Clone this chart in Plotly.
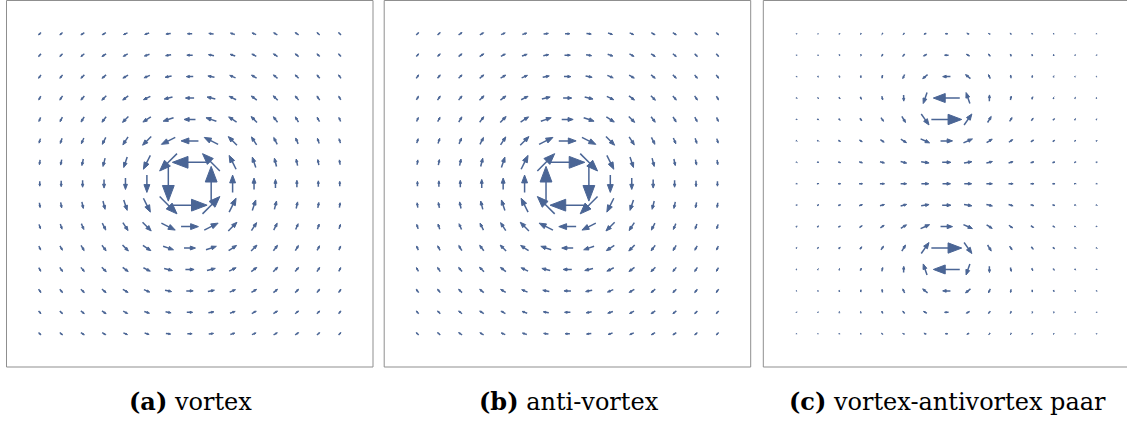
import math
import plotly.graph_objects as go

# ---------------- data ----------------
GRID_X = list(range(-7, 8))           # column positions, left -> right
GRID_Y = list(range(7, -8, -1))       # row positions, top -> bottom

# (a) vortex: horizontal / vertical components per grid point (rows top->bottom)
U_A = [
    [-.07, -.08, -.10, -.11, -.12, -.13, -.14, -.14, -.14, -.13, -.12, -.11, -.10, -.08, -.07],
    [-.07, -.08, -.10, -.12, -.13, -.15, -.16, -.17, -.16, -.15, -.13, -.12, -.10, -.08, -.07],
    [-.07, -.08, -.10, -.12, -.15, -.17, -.19, -.20, -.19, -.17, -.15, -.12, -.10, -.08, -.07],
    [-.06, -.08, -.10, -.13, -.16, -.20, -.24, -.25, -.24, -.20, -.16, -.13, -.10, -.08, -.06],
    [-.05, -.07, -.09, -.12, -.17, -.23, -.30, -.33, -.30, -.23, -.17, -.12, -.09, -.07, -.05],
    [-.04, -.05, -.07, -.10, -.15, -.25, -.40, -.50, -.40, -.25, -.15, -.10, -.07, -.05, -.04],
    [-.02, -.03, -.04, -.06, -.10, -.20, -.50, -1.0, -.50, -.20, -.10, -.06, -.04, -.03, -.02],
    [0, 0, 0, 0, 0, 0, 0, 0, 0, 0, 0, 0, 0, 0, 0],
    [.02, .03, .04, .06, .10, .20, .50, 1.0, .50, .20, .10, .06, .04, .03, .02],
    [.04, .05, .07, .10, .15, .25, .40, .50, .40, .25, .15, .10, .07, .05, .04],
    [.05, .07, .09, .12, .17, .23, .30, .33, .30, .23, .17, .12, .09, .07, .05],
    [.06, .08, .10, .13, .16, .20, .24, .25, .24, .20, .16, .13, .10, .08, .06],
    [.07, .08, .10, .12, .15, .17, .19, .20, .19, .17, .15, .12, .10, .08, .07],
    [.07, .08, .10, .12, .13, .15, .16, .17, .16, .15, .13, .12, .10, .08, .07],
    [.07, .08, .10, .11, .12, .13, .14, .14, .14, .13, .12, .11, .10, .08, .07],
]
V_A = [
    [-.07, -.07, -.07, -.06, -.05, -.04, -.02, 0, .02, .04, .05, .06, .07, .07, .07],
    [-.08, -.08, -.08, -.08, -.07, -.05, -.03, 0, .03, .05, .07, .08, .08, .08, .08],
    [-.10, -.10, -.10, -.10, -.09, -.07, -.04, 0, .04, .07, .09, .10, .10, .10, .10],
    [-.11, -.12, -.12, -.13, -.12, -.10, -.06, 0, .06, .10, .12, .13, .12, .12, .11],
    [-.12, -.13, -.15, -.16, -.17, -.15, -.10, 0, .10, .15, .17, .16, .15, .13, .12],
    [-.13, -.15, -.17, -.20, -.23, -.25, -.20, 0, .20, .25, .23, .20, .17, .15, .13],
    [-.14, -.16, -.19, -.24, -.30, -.40, -.50, 0, .50, .40, .30, .24, .19, .16, .14],
    [-.14, -.17, -.20, -.25, -.33, -.50, -1.0, 0, 1.0, .50, .33, .25, .20, .17, .14],
    [-.14, -.16, -.19, -.24, -.30, -.40, -.50, 0, .50, .40, .30, .24, .19, .16, .14],
    [-.13, -.15, -.17, -.20, -.23, -.25, -.20, 0, .20, .25, .23, .20, .17, .15, .13],
    [-.12, -.13, -.15, -.16, -.17, -.15, -.10, 0, .10, .15, .17, .16, .15, .13, .12],
    [-.11, -.12, -.12, -.13, -.12, -.10, -.06, 0, .06, .10, .12, .13, .12, .12, .11],
    [-.10, -.10, -.10, -.10, -.09, -.07, -.04, 0, .04, .07, .09, .10, .10, .10, .10],
    [-.08, -.08, -.08, -.08, -.07, -.05, -.03, 0, .03, .05, .07, .08, .08, .08, .08],
    [-.07, -.07, -.07, -.06, -.05, -.04, -.02, 0, .02, .04, .05, .06, .07, .07, .07],
]

# (b) anti-vortex
U_B = [
    [.07, .08, .10, .11, .12, .13, .14, .14, .14, .13, .12, .11, .10, .08, .07],
    [.07, .08, .10, .12, .13, .15, .16, .17, .16, .15, .13, .12, .10, .08, .07],
    [.07, .08, .10, .12, .15, .17, .19, .20, .19, .17, .15, .12, .10, .08, .07],
    [.06, .08, .10, .13, .16, .20, .24, .25, .24, .20, .16, .13, .10, .08, .06],
    [.05, .07, .09, .12, .17, .23, .30, .33, .30, .23, .17, .12, .09, .07, .05],
    [.04, .05, .07, .10, .15, .25, .40, .50, .40, .25, .15, .10, .07, .05, .04],
    [.02, .03, .04, .06, .10, .20, .50, 1.0, .50, .20, .10, .06, .04, .03, .02],
    [0, 0, 0, 0, 0, 0, 0, 0, 0, 0, 0, 0, 0, 0, 0],
    [-.02, -.03, -.04, -.06, -.10, -.20, -.50, -1.0, -.50, -.20, -.10, -.06, -.04, -.03, -.02],
    [-.04, -.05, -.07, -.10, -.15, -.25, -.40, -.50, -.40, -.25, -.15, -.10, -.07, -.05, -.04],
    [-.05, -.07, -.09, -.12, -.17, -.23, -.30, -.33, -.30, -.23, -.17, -.12, -.09, -.07, -.05],
    [-.06, -.08, -.10, -.13, -.16, -.20, -.24, -.25, -.24, -.20, -.16, -.13, -.10, -.08, -.06],
    [-.07, -.08, -.10, -.12, -.15, -.17, -.19, -.20, -.19, -.17, -.15, -.12, -.10, -.08, -.07],
    [-.07, -.08, -.10, -.12, -.13, -.15, -.16, -.17, -.16, -.15, -.13, -.12, -.10, -.08, -.07],
    [-.07, -.08, -.10, -.11, -.12, -.13, -.14, -.14, -.14, -.13, -.12, -.11, -.10, -.08, -.07],
]
V_B = [
    [.07, .07, .07, .06, .05, .04, .02, 0, -.02, -.04, -.05, -.06, -.07, -.07, -.07],
    [.08, .08, .08, .08, .07, .05, .03, 0, -.03, -.05, -.07, -.08, -.08, -.08, -.08],
    [.10, .10, .10, .10, .09, .07, .04, 0, -.04, -.07, -.09, -.10, -.10, -.10, -.10],
    [.11, .12, .12, .13, .12, .10, .06, 0, -.06, -.10, -.12, -.13, -.12, -.12, -.11],
    [.12, .13, .15, .16, .17, .15, .10, 0, -.10, -.15, -.17, -.16, -.15, -.13, -.12],
    [.13, .15, .17, .20, .23, .25, .20, 0, -.20, -.25, -.23, -.20, -.17, -.15, -.13],
    [.14, .16, .19, .24, .30, .40, .50, 0, -.50, -.40, -.30, -.24, -.19, -.16, -.14],
    [.14, .17, .20, .25, .33, .50, 1.0, 0, -1.0, -.50, -.33, -.25, -.20, -.17, -.14],
    [.14, .16, .19, .24, .30, .40, .50, 0, -.50, -.40, -.30, -.24, -.19, -.16, -.14],
    [.13, .15, .17, .20, .23, .25, .20, 0, -.20, -.25, -.23, -.20, -.17, -.15, -.13],
    [.12, .13, .15, .16, .17, .15, .10, 0, -.10, -.15, -.17, -.16, -.15, -.13, -.12],
    [.11, .12, .12, .13, .12, .10, .06, 0, -.06, -.10, -.12, -.13, -.12, -.12, -.11],
    [.10, .10, .10, .10, .09, .07, .04, 0, -.04, -.07, -.09, -.10, -.10, -.10, -.10],
    [.08, .08, .08, .08, .07, .05, .03, 0, -.03, -.05, -.07, -.08, -.08, -.08, -.08],
    [.07, .07, .07, .06, .05, .04, .02, 0, -.02, -.04, -.05, -.06, -.07, -.07, -.07],
]

# (c) vortex-antivortex pair
U_C = [
    [.01, .00, -.02, -.04, -.08, -.12, -.17, -.19, -.17, -.12, -.08, -.04, -.02, .00, .01],
    [.02, .02, .00, -.02, -.07, -.14, -.24, -.29, -.24, -.14, -.07, -.02, .00, .02, .02],
    [.04, .04, .03, .01, -.03, -.13, -.35, -.55, -.35, -.13, -.03, .01, .03, .04, .04],
    [.06, .07, .07, .07, .06, .01, -.27, -1.87, -.27, .01, .06, .07, .07, .07, .06],
    [.08, .10, .12, .14, .18, .26, .55, 2.15, .55, .26, .18, .14, .12, .10, .08],
    [.10, .12, .15, .20, .27, .40, .64, .85, .64, .40, .27, .20, .15, .12, .10],
    [.11, .14, .18, .24, .32, .43, .56, .62, .56, .43, .32, .24, .18, .14, .11],
    [.11, .15, .19, .25, .33, .43, .53, .57, .53, .43, .33, .25, .19, .15, .11],
    [.11, .14, .18, .24, .32, .43, .56, .62, .56, .43, .32, .24, .18, .14, .11],
    [.10, .12, .15, .20, .27, .40, .64, .85, .64, .40, .27, .20, .15, .12, .10],
    [.08, .10, .12, .14, .18, .26, .55, 2.15, .55, .26, .18, .14, .12, .10, .08],
    [.06, .07, .07, .07, .06, .01, -.27, -1.87, -.27, .01, .06, .07, .07, .07, .06],
    [.04, .04, .03, .01, -.03, -.13, -.35, -.55, -.35, -.13, -.03, .01, .03, .04, .04],
    [.02, .02, .00, -.02, -.07, -.14, -.24, -.29, -.24, -.14, -.07, -.02, .00, .02, .02],
    [.01, .00, -.02, -.04, -.08, -.12, -.17, -.19, -.17, -.12, -.08, -.04, -.02, .00, .01],
]
V_C = [
    [-.07, -.08, -.10, -.11, -.12, -.11, -.07, 0, .07, .11, .12, .11, .10, .08, .07],
    [-.08, -.09, -.12, -.14, -.17, -.17, -.13, 0, .13, .17, .17, .14, .12, .09, .08],
    [-.08, -.10, -.13, -.17, -.23, -.29, -.29, 0, .29, .29, .23, .17, .13, .10, .08],
    [-.08, -.10, -.14, -.19, -.28, -.44, -.78, 0, .78, .44, .28, .19, .14, .10, .08],
    [-.07, -.09, -.12, -.18, -.27, -.43, -.78, 0, .78, .43, .27, .18, .12, .09, .07],
    [-.05, -.07, -.09, -.13, -.19, -.26, -.28, 0, .28, .26, .19, .13, .09, .07, .05],
    [-.03, -.04, -.05, -.07, -.09, -.11, -.09, 0, .09, .11, .09, .07, .05, .04, .03],
    [0, 0, 0, 0, 0, 0, 0, 0, 0, 0, 0, 0, 0, 0, 0],
    [.03, .04, .05, .07, .09, .11, .09, 0, -.09, -.11, -.09, -.07, -.05, -.04, -.03],
    [.05, .07, .09, .13, .19, .26, .28, 0, -.28, -.26, -.19, -.13, -.09, -.07, -.05],
    [.07, .09, .12, .18, .27, .43, .78, 0, -.78, -.43, -.27, -.18, -.12, -.09, -.07],
    [.08, .10, .14, .19, .28, .44, .78, 0, -.78, -.44, -.28, -.19, -.14, -.10, -.08],
    [.08, .10, .13, .17, .23, .29, .29, 0, -.29, -.29, -.23, -.17, -.13, -.10, -.08],
    [.08, .09, .12, .14, .17, .17, .13, 0, -.13, -.17, -.17, -.14, -.12, -.09, -.08],
    [.07, .08, .10, .11, .12, .11, .07, 0, -.07, -.11, -.12, -.11, -.10, -.08, -.07],
]

CAPTIONS = ["<b>(a)</b> vortex", "<b>(b)</b> anti-vortex", "<b>(c)</b> vortex-antivortex paar"]

# ---------------- styling / layout ----------------
W, H = 1127, 423
PX = 300.0 / 14.0                    # pixels per grid step
PANEL_LEFT = [6.5, 384.2, 763.3]
PANEL_TOP = 0.5
PANEL_SIZE = 366.5
ARROW_SCALE = [1.62, 1.62, 0.66]     # grid units of arrow length per unit of field
HEAD_LEN = 0.45
HEAD_HW = 0.17
ARROW_COLOR = "#4a6595"
FRAME_COLOR = "#8f8f8f"
CAPTION_X = [190, 569, 947]
CAPTION_Y = 401

FIELDS = [(U_A, V_A), (U_B, V_B), (U_C, V_C)]


def arrow_geometry(U, V, k):
    sx, sy, hx, hy = [], [], [], []
    for j, yv in enumerate(GRID_Y):
        for i, xv in enumerate(GRID_X):
            u, v = U[j][i], V[j][i]
            m = math.hypot(u, v)
            if m == 0:
                continue
            L = k * m
            dx, dy = u / m, v / m
            nx, ny = -dy, dx
            tx, ty = xv - dx * L / 2, yv - dy * L / 2
            px, py = xv + dx * L / 2, yv + dy * L / 2
            bx, by = px - dx * HEAD_LEN * L, py - dy * HEAD_LEN * L
            sx += [tx, bx + dx * 0.05 * L, None]
            sy += [ty, by + dy * 0.05 * L, None]
            hx += [px, bx + nx * HEAD_HW * L, bx - nx * HEAD_HW * L, px, None]
            hy += [py, by + ny * HEAD_HW * L, by - ny * HEAD_HW * L, py, None]
    return sx, sy, hx, hy


fig = go.Figure()
shapes = []
annotations = []
layout_axes = {}
half = PANEL_SIZE / 2.0
for p in range(3):
    left = PANEL_LEFT[p]
    right = min(W, left + PANEL_SIZE)
    cx = left + half
    xname = "x" if p == 0 else f"x{p+1}"
    yname = "y" if p == 0 else f"y{p+1}"
    xkey = "xaxis" if p == 0 else f"xaxis{p+1}"
    ykey = "yaxis" if p == 0 else f"yaxis{p+1}"
    layout_axes[xkey] = dict(domain=[left / W, right / W],
                             range=[(left - cx) / PX, (right - cx) / PX],
                             visible=False, anchor=yname)
    layout_axes[ykey] = dict(domain=[(H - PANEL_TOP - PANEL_SIZE) / H, (H - PANEL_TOP) / H],
                             range=[-half / PX, half / PX],
                             visible=False, anchor=xname)
    U, V = FIELDS[p]
    sx, sy, hx, hy = arrow_geometry(U, V, ARROW_SCALE[p])
    fig.add_trace(go.Scatter(x=sx, y=sy, mode="lines", xaxis=xname, yaxis=yname,
                             line=dict(color=ARROW_COLOR, width=1.5),
                             hoverinfo="skip", showlegend=False))
    fig.add_trace(go.Scatter(x=hx, y=hy, mode="lines", fill="toself", xaxis=xname, yaxis=yname,
                             fillcolor=ARROW_COLOR, line=dict(color=ARROW_COLOR, width=1.0),
                             hoverinfo="skip", showlegend=False))
    shapes.append(dict(type="rect", xref="paper", yref="paper",
                       x0=left / W, x1=(left + PANEL_SIZE) / W,
                       y0=(H - PANEL_TOP - PANEL_SIZE) / H, y1=(H - PANEL_TOP) / H,
                       line=dict(color=FRAME_COLOR, width=1), layer="below"))
    annotations.append(dict(text=CAPTIONS[p], xref="paper", yref="paper",
                            x=CAPTION_X[p] / W, y=(H - CAPTION_Y) / H,
                            xanchor="center", yanchor="middle", showarrow=False,
                            font=dict(family="DejaVu Serif", size=24, color="#000000")))

fig.update_layout(width=W, height=H, margin=dict(l=0, r=0, t=0, b=0),
                  paper_bgcolor="white", plot_bgcolor="white",
                  shapes=shapes, annotations=annotations, **layout_axes)

fig.write_html("out.html")
